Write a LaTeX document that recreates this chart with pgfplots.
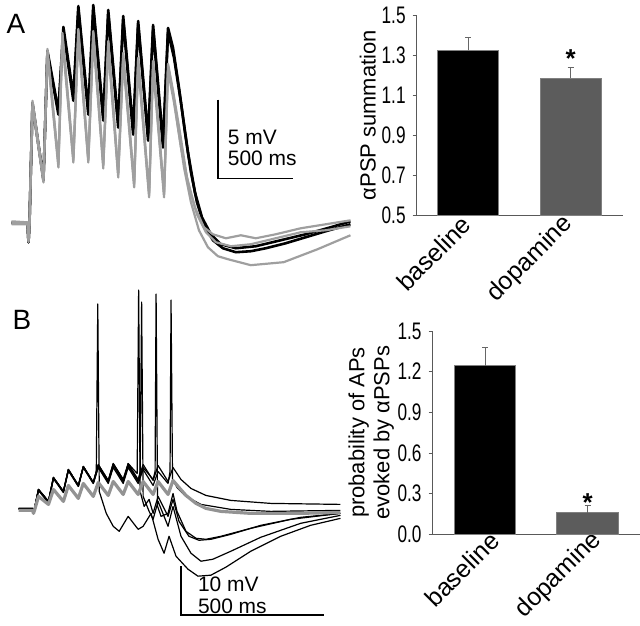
\documentclass[border=0pt]{standalone}
\usepackage{fontspec}
\setmainfont{Liberation Sans}
\newfontfamily\narrowfont{Liberation Sans}[FakeStretch=0.72]
\usepackage{pgfplots}
\pgfplotsset{compat=1.18}

% 1 px of the reference = 0.5pt
\pgfplotsset{
  barax/.style={
    scale only axis, anchor=south west,
    ybar, bar width=0.6,
    axis lines*=left,
    axis line style={draw=gray!70!black, line width=0.5pt},
    xtick={0,1}, xticklabels={baseline,dopamine},
    xtick style={draw=none},
    xticklabel style={rotate=45, anchor=east, inner sep=1pt,
      font=\fontsize{12.5}{13}\selectfont},
    ytick style={draw=gray!70!black, line width=0.4pt},
    tick align=outside, major tick length=1.8pt,
    yticklabel style={font=\fontsize{12}{13}\narrowfont,
      /pgf/number format/.cd, fixed, fixed zerofill, precision=1,
      assume math mode=true},
    ylabel style={font=\fontsize{11}{12.5}\selectfont, align=center},
  },
  errb/.style={error bars/.cd, y dir=plus, y explicit,
    error bar style={gray!80!black, line width=0.5pt},
    error mark options={rotate=90, mark size=1.5pt, gray!80!black, line width=0.5pt}},
  trblack/.style={black, line width=1.3pt, line join=round},
  trgray/.style={gray!75, line width=1.1pt, line join=round},
  bthin/.style={black, line width=0.6pt, line join=round},
}

\begin{document}
\begin{tikzpicture}
\path (0,0) rectangle (320pt,308.5pt);

% ---------- traces, pixel coordinates ----------
\begin{axis}[at={(0,0)}, anchor=south west, scale only axis,
  width=320pt, height=308.5pt,
  xmin=0, xmax=640, ymin=0, ymax=617, y dir=reverse,
  axis lines=none, clip=false]

% panel A, baseline (black)
\addplot[trblack] coordinates {
 (10,220) (26,221) (27,240) (28,220) (31,100) (42,178) (46,48) (57,108) (62,24)
 (72,93) (77,3) (87,107) (92,2) (102,113) (107,7) (117,120) (122,13) (132,127)
 (137,18) (147,133) (152,22) (162,140) (167,25) (172,45) (178,85) (184,130)
 (190,170) (196,200) (203,222) (212,238) (222,246) (235,250) (250,249)
 (265,246) (285,241) (305,235) (325,229) (350,222)};
\addplot[trblack] coordinates {
 (10,221) (26,221) (27,240) (28,221) (31,102) (42,176) (46,50) (57,112) (62,28)
 (72,98) (77,7) (87,112) (92,6) (102,118) (107,11) (117,125) (122,17) (132,132)
 (137,22) (147,138) (152,26) (162,145) (167,29) (173,55) (180,100) (187,150)
 (194,190) (201,215) (210,232) (220,242) (235,246) (255,244) (280,238)
 (305,232) (330,225) (350,219)};
% panel A, dopamine (gray)
\addplot[trgray] coordinates {
 (10,220) (26,221) (27,240) (28,220) (31,100) (42,178) (46,48) (57,162) (61,32)
 (72,157) (77,28) (87,158) (92,30) (102,163) (107,40) (117,172) (122,53)
 (133,182) (137,57) (148,192) (152,60) (163,192) (167,63) (172,90) (177,125)
 (183,165) (190,200) (198,228) (207,245) (217,254) (227,257) (250,263)
 (283,260) (317,247) (350,233)};
\addplot[trgray] coordinates {
 (10,222) (26,222) (27,238) (28,222) (31,104) (42,180) (46,52) (57,165) (61,38)
 (72,160) (77,34) (87,160) (92,36) (102,166) (107,46) (117,175) (122,58)
 (133,185) (137,62) (148,195) (152,66) (163,195) (167,68) (173,100) (180,145)
 (188,185) (196,212) (205,230) (215,240) (230,244) (250,242) (275,236)
 (300,230) (325,228) (350,224)};
\addplot[trgray] coordinates {
 (10,219) (26,220) (27,239) (28,219) (31,98) (42,176) (46,46) (57,160) (61,30)
 (72,155) (77,26) (87,156) (92,28) (102,161) (107,38) (117,170) (122,50)
 (133,180) (137,55) (148,190) (152,58) (163,190) (167,61) (172,88) (179,130)
 (186,175) (194,205) (203,225) (212,232) (225,236) (240,233) (255,236)
 (275,232) (300,226) (325,222) (350,218)};

% scale bar A
\addplot[black, line width=0.7pt] coordinates {(217,97) (217,176) (292,176)};
\node[anchor=west, font=\fontsize{10.5}{12}\selectfont] at (axis cs:220,135) {5 mV};
\node[anchor=west, font=\fontsize{10.5}{12}\selectfont] at (axis cs:220,156) {500 ms};

% panel B, baseline (black, thin)
\addplot[bthin] coordinates {
 (17,507) (31,507) (32,510) (33,507) (37,488) (47,500) (52,476) (62,490) (67,468)
 (77,484) (82,465) (92,481) (97,463) (107,479) (112,462) (122,478) (127,462)
 (137,478) (142,463) (152,479) (157,464) (167,480) (172,466) (180,478)
 (190,487) (205,494) (230,499) (270,502) (340,503)};
\addplot[bthin] coordinates {
 (17,508) (31,508) (32,511) (33,508) (37,489) (47,501) (52,477) (62,491) (67,469)
 (77,485) (82,466) (92,482) (97,466) (107,482) (112,466) (122,482) (127,466)
 (137,482) (142,468) (152,484) (157,470) (167,482) (169,470) (170,298)
 (171.5,478) (176,486) (185,495) (200,503) (230,508) (270,510) (340,509)};
\addplot[bthin] coordinates {
 (17,507) (31,507) (32,510) (33,507) (37,488) (47,500) (52,476) (62,490) (67,468)
 (77,484) (82,465) (92,481) (97,464) (107,480) (112,463) (122,480) (127,464)
 (137,480) (142,466) (152,478) (154,470) (155,292) (156.5,505) (160,515)
 (167,512) (172,492) (176,510) (185,530) (195,537) (205,538) (220,535)
 (250,527) (290,518) (340,512)};
\addplot[bthin] coordinates {
 (17,507) (31,507) (32,510) (33,507) (37,488) (47,500) (52,476) (62,490) (67,468)
 (77,484) (82,465) (92,481) (97,463) (107,479) (112,462) (122,478) (127,462)
 (136,472) (137.5,288) (139,490) (143,505) (148,498) (152,512) (157,495)
 (167,515) (172,498) (178,520) (188,535) (198,539) (210,538) (230,533)
 (260,524) (300,516) (340,512)};
\addplot[bthin] coordinates {
 (17,508) (31,508) (32,511) (33,508) (37,489) (47,501) (52,477) (62,491) (67,469)
 (77,485) (82,466) (92,482) (97,465) (107,481) (112,464) (122,480) (127,464)
 (137,479) (139,470) (140.5,300) (142,495) (148,510) (152,518) (157,500)
 (167,525) (172,505) (180,535) (190,552) (200,560) (212,558) (230,550)
 (260,536) (300,522) (340,514)};
\addplot[bthin] coordinates {
 (17,507) (31,507) (32,510) (33,507) (37,488) (47,500) (52,476) (62,490) (67,468)
 (77,484) (82,465) (92,481) (95,470) (96.5,302) (98,490) (105,512) (112,525)
 (118,530) (127,515) (137,528) (142,525) (150,512) (157,538) (163,552)
 (168,535) (175,555) (187,568) (197,575) (210,574) (225,566) (250,550)
 (280,535) (310,524) (340,517)};
% panel B, dopamine (gray, thick)
\addplot[gray!85, line width=1.6pt, line join=round] coordinates {
 (17,509) (31,509) (32,512) (33,509) (37,495) (47,503) (52,488) (62,500) (67,484)
 (77,497) (82,482) (92,495) (97,481) (107,494) (112,480) (122,493) (127,480)
 (137,493) (142,480) (152,493) (157,480) (167,493) (172,479) (178,486)
 (185,494) (195,502) (205,507) (220,510) (250,512) (300,512) (340,511)};

% scale bar B
\addplot[black, line width=0.7pt] coordinates {(180,565) (180,614) (323,614)};
\node[anchor=west, font=\fontsize{10.5}{12}\selectfont] at (axis cs:190,583) {10 mV};
\node[anchor=west, font=\fontsize{10.5}{12}\selectfont] at (axis cs:190,605) {500 ms};

% panel letters
\node[anchor=west, font=\fontsize{14}{14}\selectfont] at (axis cs:-2,21) {A};
\node[anchor=west, font=\fontsize{14}{14}\selectfont] at (axis cs:4,318) {B};
\end{axis}

% ---------- bar chart A ----------
\begin{axis}[barax, at={(208pt,202pt)}, width=103.5pt, height=100.5pt,
  xmin=-0.505, xmax=1.505, ymin=0.5, ymax=1.5,
  ytick={0.5,0.7,0.9,1.1,1.3,1.5},
  ylabel={αPSP summation}, ylabel shift=-4pt]
\addplot[fill=black, draw=gray, line width=0.4pt, bar shift=0pt, errb]
  coordinates {(0,1.323) +- (0,0.067)};
\addplot[fill=black!64, draw=gray, line width=0.4pt, bar shift=0pt, errb]
  coordinates {(1,1.185) +- (0,0.055)};
\node[font=\fontsize{13}{13}\selectfont\bfseries] at (axis cs:1,1.28) {*};
\end{axis}

% ---------- bar chart B ----------
\begin{axis}[barax, at={(216pt,42pt)}, width=104pt, height=102pt,
  xmin=-0.515, xmax=1.505, ymin=0, ymax=1.5,
  ytick={0,0.3,0.6,0.9,1.2,1.5},
  ylabel={probability of APs\\evoked by αPSPs}, ylabel shift=-5pt,
  xticklabel style={xshift=5pt, yshift=-3pt}]
\addplot[fill=black, draw=gray, line width=0.4pt, bar shift=0pt, errb]
  coordinates {(0,1.243) +- (0,0.132)};
\addplot[fill=black!64, draw=gray, line width=0.4pt, bar shift=0pt, errb]
  coordinates {(1,0.16) +- (0,0.05)};
\node[font=\fontsize{13}{13}\selectfont\bfseries] at (axis cs:1,0.235) {*};
\end{axis}
\end{tikzpicture}
\end{document}
